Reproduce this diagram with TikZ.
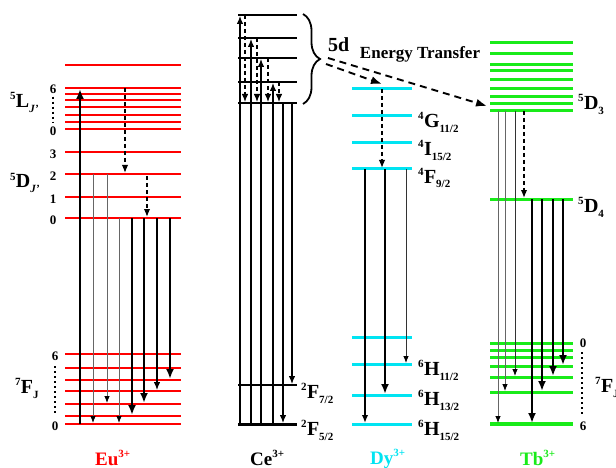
\documentclass[tikz,border=0pt]{standalone}
\usepackage{fontspec}
\setmainfont{Liberation Serif}
\usetikzlibrary{arrows.meta,decorations.pathreplacing,calc}
\definecolor{eured}{RGB}{255,0,0}
\definecolor{dycyan}{RGB}{0,228,242}
\definecolor{tbgreen}{RGB}{25,235,25}
\newcommand{\trm}[3]{\raisebox{8pt}{\fontsize{11}{11}\selectfont #1}\kern0.3pt#2\raisebox{-5pt}{\fontsize{11}{11}\selectfont #3}}
\newcommand{\ionlab}[2]{#1\raisebox{7.5pt}{\fontsize{11}{11}\selectfont #2}}
\begin{document}
\begin{tikzpicture}[x=1pt,y=-1pt,
  eulev/.style={draw=eured,line width=2.8pt},
  celev/.style={draw=black,line width=2pt},
  dylev/.style={draw=dycyan,line width=3pt},
  tblev/.style={draw=tbgreen,line width=3pt},
  ar/.style={-{Latex[length=8pt,width=6.5pt]},line width=1.2pt},
  arthick/.style={-{Latex[length=10pt,width=8pt]},line width=2.3pt},
  arthin/.style={-{Latex[length=7pt,width=5.5pt,color=black]},line width=0.8pt,draw=black!60},
  dar/.style={-{Latex[length=8pt,width=6.5pt]},line width=1.5pt,dash pattern=on 4pt off 3pt},
  etar/.style={-{Latex[length=11pt,width=8pt]},line width=1.9pt,dash pattern=on 7pt off 5pt},
  dotline/.style={line width=1.8pt,dash pattern=on 2pt off 3pt},
  lab/.style={font=\fontsize{20}{20}\selectfont\bfseries,inner sep=0pt,anchor=base west},
  num/.style={font=\fontsize{13}{13}\selectfont\bfseries,inner sep=0pt},
  ion/.style={font=\fontsize{19}{19}\selectfont\bfseries,inner sep=0pt,anchor=base west},
]
\useasboundingbox (0,0) rectangle (616,468);
\fill[white] (0,0) rectangle (616,468);

% ---------------- Eu ----------------
\foreach \y in {65,88,94,100,107,115,122,129,152,174,197,218,354,368,380,391,404,416,424}
  \draw[eulev] (65,\y) -- (181,\y);
\node[num] (eu6) at (53,89) {6};
\node[num] (eu0a) at (53,131) {0};
\node[num] (eu3) at (53,154) {3};
\node[num] (eu2) at (53,176) {2};
\node[num] (eu1) at (53,199) {1};
\node[num] (eu0b) at (53,220) {0};
\draw[dotline] ($(eu6.south)+(0,3)$) -- ($(eu0a.north)+(0,-3)$);
\node[lab] (euL) at (10,108) {\trm{5}{L}{\textit{J'}}};
\node[lab] (euD) at (10,188) {\trm{5}{D}{\textit{J'}}};
\node[num] (euF6) at (55,356) {6};
\node[num] (euF0) at (55,426) {0};
\draw[dotline] (55,366) -- (55,414);
\node[lab] (euF) at (15,393) {\trm{7}{F}{J}};
\node[ion,text=eured] (euion) at (95,465) {\ionlab{Eu}{3+}};

\draw[arthick,line width=2.8pt] (80,424) -- (80,89);
\draw[dar] (125,88) -- (125,173);
\draw[dar] (147,176) -- (147,217);
\draw[arthin] (93,174) -- (93,423);
\draw[arthin] (107,174) -- (107,403);
\draw[arthin] (119,218) -- (119,423);
\draw[arthick] (132,218) -- (132,415);
\draw[arthick] (144,218) -- (144,403);
\draw[ar] (157,218) -- (157,390);
\draw[arthick] (170,218) -- (170,379);

% ---------------- Ce ----------------
\foreach \y in {15,38,58,82,103,385}
  \draw[celev] (238,\y) -- (297,\y);
\draw[black,line width=3pt] (238,424) -- (297,424);
\draw[ar] (240,424) -- (240,16);
\draw[ar] (251,424) -- (251,39);
\draw[ar] (261,424) -- (261,59);
\draw[ar] (273,424) -- (273,83);
\draw[dar,line width=1.2pt] (245,15) -- (245,102);
\draw[dar,line width=1.2pt] (257,38) -- (257,102);
\draw[dar,line width=1.2pt] (268,58) -- (268,102);
\draw[dar,line width=1.2pt] (279,82) -- (279,102);
\draw[ar] (283,103) -- (283,423);
\draw[ar] (292,103) -- (292,384);
\draw[line width=1.8pt,decorate,decoration={brace,amplitude=17pt}] (303,14) -- (303,104);
\node[lab,anchor=base west] (fived) at (328,52) {5d};
\node[font=\fontsize{17}{17}\selectfont\bfseries,inner sep=0pt] (et) at (420,54) {Energy Transfer};
\node[lab] (ceF7) at (301,398) {\trm{2}{F}{7/2}};
\node[lab] (ceF5) at (301,435) {\trm{2}{F}{5/2}};
\node[ion] (ceion) at (250,465) {\ionlab{Ce}{3+}};
\coordinate (tip1) at (326,64);
\coordinate (tip2) at (328,58);

% ---------------- Dy ----------------
\foreach \y in {89,116,143,169,337,364,395,424}
  \draw[dylev] (352,\y) -- (412,\y);
\draw[dar] (382,89) -- (382,168);
\draw[ar,line width=1.6pt] (365,169) -- (365,423);
\draw[arthick] (385,169) -- (385,394);
\draw[arthin,draw=black!80] (406,169) -- (406,363);
\node[lab] (dyG) at (418,128) {\trm{4}{G}{11/2}};
\node[lab] (dyI) at (418,156) {\trm{4}{I}{15/2}};
\node[lab] (dyF) at (418,183) {\trm{4}{F}{9/2}};
\node[lab] (dyH11) at (418,375) {\trm{6}{H}{11/2}};
\node[lab] (dyH13) at (418,405) {\trm{6}{H}{13/2}};
\node[lab] (dyH15) at (418,435) {\trm{6}{H}{15/2}};
\node[ion,text=dycyan] (dyion) at (370,464) {\ionlab{Dy}{3+}};

% ---------------- Tb ----------------
\foreach \y in {43,54,65,71,80,89,97,104,111,199,343,350,357,366,377,392}
  \draw[tblev] (490,\y) -- (573,\y);
\draw[tblev,line width=4pt] (490,424) -- (573,424);
\draw[dar] (524,111) -- (524,198);
\draw[arthin] (498,111) -- (498,423);
\draw[arthin] (505,111) -- (505,391);
\draw[arthin,draw=black!80] (515,111) -- (515,376);
\draw[arthick] (532,199) -- (532,423);
\draw[arthick] (542,199) -- (542,391);
\draw[arthick] (553,199) -- (553,376);
\draw[arthick,line width=2.8pt] (563,199) -- (563,365);
\node[lab] (tbD3) at (578,110) {\trm{5}{D}{3}};
\node[lab] (tbD4) at (578,212) {\trm{5}{D}{4}};
\node[num] (tbF0) at (583,343) {0};
\node[num] (tbF6) at (583,426) {6};
\draw[dotline] (582,352) -- (582,415);
\node[lab] (tbF) at (595,392) {\trm{7}{F}{J}};
\node[ion,text=tbgreen] (tbion) at (520,465) {\ionlab{Tb}{3+}};

% -------- energy transfer arrows --------
\coordinate (dyend) at (382,84);
\coordinate (tbend) at (487,106);
\draw[etar] (tip1) -- (dyend);
\draw[etar] (tip2) -- (tbend);
\end{tikzpicture}
\end{document}
